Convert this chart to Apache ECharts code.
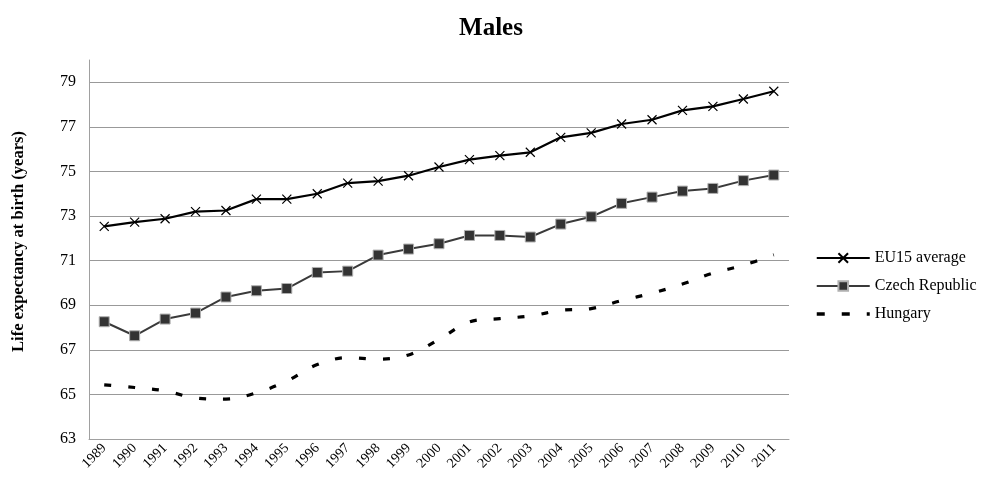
<!DOCTYPE html>
<html>
<head>
<meta charset="utf-8">
<script src="https://cdn.jsdelivr.net/npm/echarts@6/dist/echarts.min.js"></script>
<style>
  html, body { margin: 0; padding: 0; background: #fff; }
  #main { width: 982px; height: 483px; }
</style>
</head>
<body>
<div id="main"></div>
<script>
  // 数据
  var years = ['1989', '1990', '1991', '1992', '1993', '1994', '1995', '1996', '1997', '1998', '1999', '2000',
    '2001', '2002', '2003', '2004', '2005', '2006', '2007', '2008', '2009', '2010', '2011'];
  var eu15 = [72.54, 72.73, 72.88, 73.20, 73.25, 73.76, 73.76, 74.00, 74.48, 74.57, 74.81, 75.20,
    75.53, 75.71, 75.86, 76.53, 76.73, 77.13, 77.32, 77.74, 77.92, 78.25, 78.60];
  var czech = [68.26, 67.63, 68.38, 68.65, 69.37, 69.65, 69.75, 70.47, 70.53, 71.25, 71.52, 71.76,
    72.13, 72.13, 72.06, 72.64, 72.97, 73.57, 73.85, 74.12, 74.24, 74.59, 74.84];
  var hungary = [65.43, 65.31, 65.16, 64.84, 64.79, 65.07, 65.60, 66.34, 66.65, 66.58, 66.77, 67.47,
    68.25, 68.40, 68.52, 68.77, 68.85, 69.21, 69.54, 69.95, 70.44, 70.79, 71.26];
  var yTicks = { min: 63, max: 80, step: 2 };

  var font = 'Liberation Serif, Times New Roman, serif';
  var crossSymbol = 'path://M0,0L10,10M10,0L0,10';

  var chart = echarts.init(document.getElementById('main'));
  var option = {
    animation: false,
    title: {
      text: 'Males',
      left: 'center',
      top: 11,
      textStyle: { fontFamily: font, fontSize: 25, fontWeight: 'bold', color: '#000' }
    },
    legend: {
      orient: 'vertical',
      left: 815,
      top: 250,
      padding: 0,
      itemWidth: 53,
      itemHeight: 12,
      itemGap: 12,
      textStyle: { fontFamily: font, fontSize: 16, color: '#000' },
      data: [
        'EU15 average',
        'Czech Republic',
        { name: 'Hungary', itemStyle: { opacity: 0 }, lineStyle: { type: [8, 17], width: 3.5 } }
      ]
    },
    grid: { left: 89, right: 193, top: 60, bottom: 44, containLabel: false },
    xAxis: {
      type: 'category',
      data: years,
      boundaryGap: true,
      axisLine: { show: true, lineStyle: { color: '#a0a0a0', width: 1 } },
      axisTick: { show: false },
      axisLabel: { rotate: 45, margin: 7, interval: 0, fontFamily: font, fontSize: 14, color: '#000' }
    },
    yAxis: {
      type: 'value',
      min: yTicks.min,
      max: yTicks.max,
      interval: yTicks.step,
      name: 'Life expectancy at birth (years)',
      nameLocation: 'middle',
      nameGap: 62,
      nameTextStyle: { fontFamily: font, fontSize: 16.5, fontWeight: 'bold', color: '#000', padding: [0, 0, 0, 16] },
      axisLine: { show: true, lineStyle: { color: '#a0a0a0', width: 1 } },
      axisTick: { show: false },
      axisLabel: { margin: 13, fontFamily: font, fontSize: 16, color: '#000', showMaxLabel: false },
      splitLine: { show: true, showMaxLine: false, showMinLine: false, lineStyle: { color: '#999', width: 1 } }
    },
    series: [
      {
        name: 'EU15 average',
        type: 'line',
        data: eu15,
        symbol: crossSymbol,
        symbolSize: 9,
        itemStyle: { color: '#000', borderColor: '#000', borderWidth: 1.2 },
        lineStyle: { color: '#000', width: 2.2 }
      },
      {
        name: 'Czech Republic',
        type: 'line',
        data: czech,
        symbol: 'rect',
        symbolSize: 10,
        itemStyle: { color: '#333', borderColor: '#b0b0b0', borderWidth: 1 },
        lineStyle: { color: '#3a3a3a', width: 2 }
      },
      {
        name: 'Hungary',
        type: 'line',
        data: hungary,
        symbol: 'none',
        smooth: 0.35,
        itemStyle: { color: '#000' },
        lineStyle: { color: '#000', width: 3.2, type: [7, 17] }
      }
    ]
  };
  chart.setOption(option);
</script>
</body>
</html>
